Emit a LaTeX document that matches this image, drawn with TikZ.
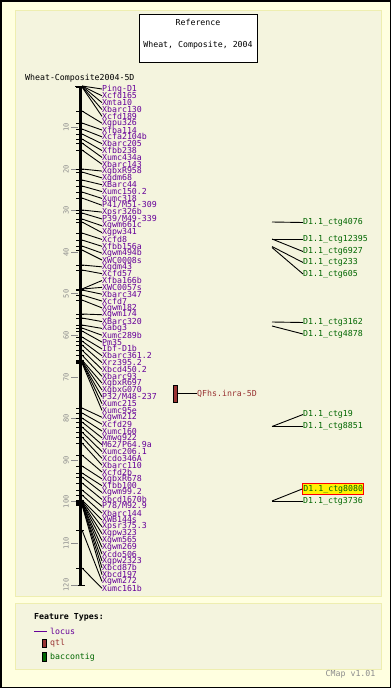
\documentclass[tikz,border=0pt]{standalone}
\usepackage{fontspec}
\setmonofont{DejaVu Sans Mono}
\definecolor{outerbg}{HTML}{FFFFE0}
\definecolor{panelbg}{HTML}{F4F4DE}
\definecolor{panelline}{HTML}{EEEEB0}
\definecolor{locuscol}{HTML}{660099}
\definecolor{qtlcol}{HTML}{993333}
\definecolor{baccol}{HTML}{006600}
\definecolor{scalecol}{HTML}{8C8C8C}
\tikzset{
  mono/.style={font=\ttfamily\fontsize{8.25}{8.25}\selectfont, inner sep=0pt},
  lbl/.style={mono, anchor=west, text=locuscol},
  baclbl/.style={mono, anchor=west, text=baccol},
  conn/.style={draw=black, line width=0.9pt},
  axtick/.style={draw=black, line width=0.9pt},
  scaletick/.style={draw=scalecol, line width=0.9pt},
  scalelbl/.style={font=\ttfamily\fontsize{7}{7}\selectfont, text=scalecol, inner sep=0pt, rotate=90},
  panel/.style={fill=panelbg, draw=panelline, line width=1pt}
}
\begin{document}
\begin{tikzpicture}[x=1pt,y=-1pt]
\path[use as bounding box] (0,0) rectangle (391,688);
\fill[outerbg] (0,0) rectangle (391,688);
\draw[black, line width=1.5pt] (0.75,0.75) rectangle (390.25,687.25);
\path[panel] (15,10) rectangle (381,596);
\path[panel] (15,603) rectangle (381,669);

% title box
\draw[black, fill=white, line width=0.9pt] (139.5,14) rectangle (257,62);
\node[mono, text=black] (ref) at (198,22.5) {Reference};
\node[mono, text=black] (refname) at (198,45.5) {Wheat, Composite, 2004};
\node[mono, text=black, anchor=west] (mapname) at (25,78) {Wheat-Composite2004-5D};

% axis
\draw[black, line width=3pt] (80,86) -- (80,585);
\draw[axtick] (75,86) -- (85,86);
\draw[axtick] (75,585) -- (85,585);

% scale
\foreach \c in {10,20,...,120} {
  \draw[scaletick] (71,{86+4.158*\c}) -- (78,{86+4.158*\c});
  \node[scalelbl] (S\c) at (66,{86+4.158*\c}) {\c};
}

% loci
\foreach \m/\t [count=\i] in {86/Ping-D1, 86/Xcfd165, 86/Xmta10, 86.5/Xbarc130, 87/Xcfd189, 111/Xgpu326, 123/Xfba114, 129/Xcfa2104b, 134/Xbarc205, 139/Xfbb238, 143/Xumc434a, 150/Xbarc143, 169/XgbxR958, 172/Xgdm68, 180/XBarc44, 186/Xumc150.2, 192/Xumc318, 198/{P41/M51-309}, 210/Xpsr326b, 213/{P39/M49-339}, 219/Xgwm661c, 222/Xgpw341, 233/Xcfd8, 240/Xfbb156a, 246/Xgwm494b, 250/XWC0008s, 265/Xgdm43, 270/Xcfd57, 289/Xfba166b, 289/XWC0057s, 290/Xbarc347, 295/Xcfd7, 300/Xgwm182, 314/Xgwm174, 318/XBarc320, 325/Xabg3, 328/Xumc289b, 331/Pm35, 337/Ibf-D1b, 341/Xbarc361.2, 345/Xrz395.2, 350/Xbcd450.2, 355/Xbarc93, 360/XgbxR697, 361/XgbxG070, 362/{P32/M48-237}, 362/Xumc215, 363/Xumc95e, 408/Xgwm212, 413/Xcfd29, 418/Xumc160, 422/Xmwg922, 427/{M62/P64.9a}, 432/Xumc206.1, 437/Xcdo346A, 443/Xbarc110, 455/Xcfd2b, 466/XgbxR678, 473/Xfbb100, 477/Xgwm99.2, 483/Xbcd1670b, 490/{P78/M92.9}, 495/Xbarc144, 500/XWB144s, 501/Xpsr375.3, 502/Xgpw323, 502/Xgwm565, 503/Xgwm269, 503/Xcdo506, 504/Xgpw2323, 504/Xbcd87b, 505/Xbcd197, 530/Xgwm272, 568/Xumc161b} {
  \coordinate (M\i) at (82,\m);
  \draw[axtick] (76,\m) -- (84,\m);
  \node[lbl] (L\i) at (102,{89+(\i-1)*6.84}) {\t};
  \draw[conn] (M\i) -- (L\i.west);
}

% QTL
\node[draw=black, fill=qtlcol, line width=0.6pt, minimum width=4pt, minimum height=17pt, inner sep=0pt] (Q) at (175,393.5) {};
\node[mono, anchor=west, text=qtlcol] (QL) at (197,393.5) {QFhs.inra-5D};
\draw[conn] (Q.east) -- (QL.west);

% BAC contigs
\foreach \sy/\ly/\t/\nm in {222/222.5/D1.1\_ctg4076/a, 239/239/D1.1\_ctg12395/b, 239/251.5/D1.1\_ctg6927/c, 246.5/262.5/D1.1\_ctg233/d, 247.5/274/D1.1\_ctg605/e, 322/322.5/D1.1\_ctg3162/f, 326/334/D1.1\_ctg4878/g, 426.5/414.5/D1.1\_ctg19/h, 426.5/426.5/D1.1\_ctg8851/i, 501/501/D1.1\_ctg3736/k} {
  \coordinate (B\nm) at (272,\sy);
  \node[baclbl] (C\nm) at (303,\ly) {\t};
  \draw[conn] (B\nm) -- (C\nm.west);
}
\coordinate (Bj) at (272,501);
\node[baclbl, fill=yellow, draw=red, line width=0.9pt, inner xsep=0.8pt, inner ysep=1.2pt] (Cj) at (302.2,489) {D1.1\_ctg8080};
\draw[conn] (Bj) -- (Cj.west);

% legend
\node[mono, anchor=west, text=black, font=\ttfamily\bfseries\fontsize{8.25}{8.25}\selectfont] (ft) at (34,617.5) {Feature Types:};
\coordinate (lg0) at (34,631.5);
\node[mono, anchor=west, text=locuscol] (lg1) at (50,631.5) {locus};
\draw[locuscol, line width=0.9pt] (lg0) -- ([xshift=-3pt]lg1.west);
\node[draw=black, fill=qtlcol, line width=0.5pt, minimum width=3.5pt, minimum height=8pt, inner sep=0pt] (lq) at (44,643.5) {};
\node[mono, anchor=west, text=qtlcol] (lg2) at (50,643.5) {qtl};
\node[draw=black, fill=baccol, line width=0.5pt, minimum width=3.5pt, minimum height=8.5pt, inner sep=0pt] (lb) at (44,656.5) {};
\node[mono, anchor=west, text=baccol] (lg3) at (50,657) {baccontig};
\node[mono, anchor=west, text=scalecol] (cmap) at (325.5,674) {CMap v1.01};
\end{tikzpicture}
\end{document}
